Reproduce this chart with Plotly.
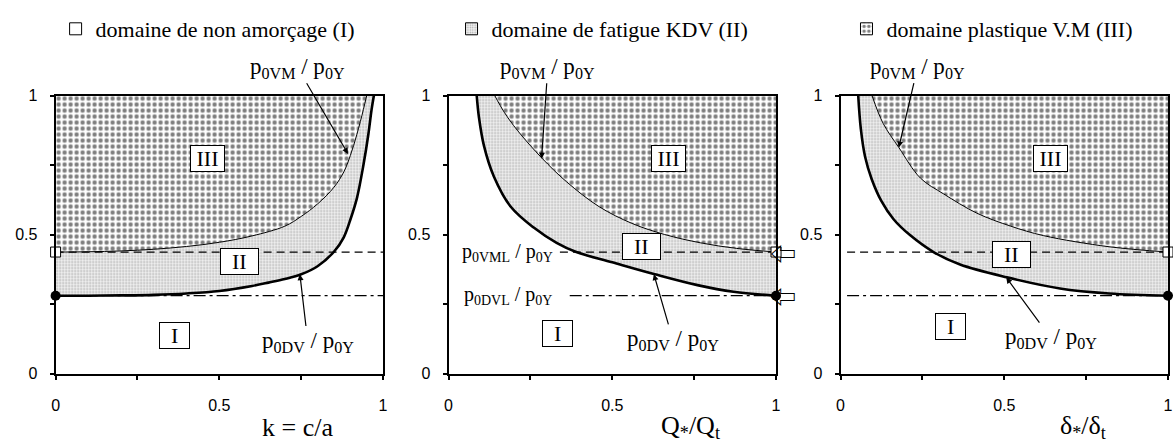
import plotly.graph_objects as go

# ---------------------------------------------------------------------------
# Curves: lower bound p0DV/p0Y (fatigue threshold) and upper bound p0VM/p0Y
# (plastic threshold) for the three loading parameters.
# ---------------------------------------------------------------------------
# panel 1 : k = c/a
K_DV = [0.0, 0.1, 0.2, 0.3, 0.4, 0.5, 0.6, 0.65, 0.7, 0.75, 0.8, 0.85, 0.88, 0.9, 0.92, 0.94, 0.955, 0.965, 0.972]
P_DV_K = [0.28, 0.28, 0.281, 0.283, 0.288, 0.297, 0.315, 0.327, 0.34, 0.357, 0.386, 0.438, 0.49, 0.553, 0.63, 0.75, 0.86, 0.95, 1.0]
K_VM = [0.0, 0.1, 0.2, 0.3, 0.4, 0.5, 0.6, 0.7, 0.75, 0.8, 0.85, 0.88, 0.9, 0.92, 0.94, 0.95]
P_VM_K = [0.437, 0.438, 0.441, 0.447, 0.457, 0.472, 0.495, 0.53, 0.565, 0.61, 0.67, 0.725, 0.784, 0.86, 0.95, 1.0]

# panel 2 : Q*/Qt
Q_DV = [0.086, 0.093, 0.108, 0.138, 0.19, 0.26, 0.33, 0.39, 0.5, 0.63, 0.76, 0.87, 1.0]
P_DV_Q = [1.0, 0.92, 0.82, 0.71, 0.60, 0.525, 0.47, 0.437, 0.40, 0.357, 0.318, 0.294, 0.28]
Q_VM = [0.141, 0.17, 0.21, 0.285, 0.36, 0.46, 0.56, 0.66, 0.77, 0.88, 1.0]
P_VM_Q = [1.0, 0.94, 0.875, 0.775, 0.69, 0.60, 0.54, 0.50, 0.47, 0.45, 0.437]

# panel 3 : delta*/delta_t
D_DV = [0.054, 0.062, 0.075, 0.095, 0.125, 0.162, 0.213, 0.284, 0.365, 0.508, 0.67, 0.82, 1.0]
P_DV_D = [1.0, 0.88, 0.78, 0.70, 0.62, 0.555, 0.497, 0.437, 0.392, 0.346, 0.306, 0.288, 0.28]
D_VM = [0.096, 0.13, 0.178, 0.244, 0.315, 0.416, 0.52, 0.62, 0.82, 1.0]
P_VM_D = [1.0, 0.9, 0.813, 0.703, 0.646, 0.577, 0.53, 0.496, 0.456, 0.437]

# limit levels
P_VML = 0.437   # p0VML/p0Y
P_DVL = 0.28    # p0DVL/p0Y

Y_TOP = 1.0
TICK_VALS = [0, 0.25, 0.5, 0.75, 1]
TICK_TEXT = ["0", "", "0.5", "", "1"]

LEGEND_NAMES = ["domaine de non amorçage (I)",
                "domaine de fatigue KDV (II)",
                "domaine plastique V.M (III)"]
AXIS_TITLES = ["k = c/a", "Q<sub>*</sub>/Q<sub>t</sub>", "δ<sub>*</sub>/δ<sub>t</sub>"]

# ---------------------------------------------------------------------------
W, H = 1173, 446
SERIF = "Liberation Serif"
SANS = "Liberation Sans"

PAT_III = dict(shape=".", size=6, solidity=0.42, fgcolor="black", bgcolor="white")
PAT_II = dict(shape=".", size=3, solidity=0.3, fgcolor="#666666", bgcolor="#f2f2f2")

X_DOMAINS = [[52 / W, 382 / W], [448 / W, 778 / W], [843 / W, 1.0]]
Y_DOMAIN = [1 - 380 / H, 1 - 91 / H]

panels = [
    dict(xd=K_DV, yd=P_DV_K, xv=K_VM, yv=P_VM_K, end=0, hstart=(0.0, 0.0)),
    dict(xd=Q_DV, yd=P_DV_Q, xv=Q_VM, yv=P_VM_Q, end=-1, hstart=(0.34, 0.37)),
    dict(xd=D_DV, yd=P_DV_D, xv=D_VM, yv=P_VM_D, end=-1, hstart=(0.02, 0.02)),
]

fig = go.Figure()

for i, p in enumerate(panels):
    s = "" if i == 0 else str(i + 1)
    xa, ya = "x" + s, "y" + s
    # top edge of the plastic domain
    fig.add_trace(go.Scatter(x=[p["xv"][0], p["xv"][-1]], y=[Y_TOP, Y_TOP], xaxis=xa, yaxis=ya,
                             mode="lines", line=dict(width=0), showlegend=False, hoverinfo="skip"))
    # p0VM/p0Y curve, domain III above it
    fig.add_trace(go.Scatter(x=p["xv"], y=p["yv"], xaxis=xa, yaxis=ya, mode="lines",
                             line=dict(color="black", width=1, shape="spline"),
                             fill="tonexty", fillcolor="rgba(0,0,0,0)", fillpattern=PAT_III,
                             showlegend=False, hoverinfo="skip"))
    # p0DV/p0Y curve, domain II between the two curves
    fig.add_trace(go.Scatter(x=p["xd"], y=p["yd"], xaxis=xa, yaxis=ya, mode="lines",
                             line=dict(color="black", width=2.6, shape="spline"),
                             fill="tonexty", fillcolor="rgba(0,0,0,0)", fillpattern=PAT_II,
                             showlegend=False, hoverinfo="skip"))
    # limit levels
    fig.add_trace(go.Scatter(x=[p["hstart"][0], 1], y=[P_VML, P_VML], xaxis=xa, yaxis=ya, mode="lines",
                             line=dict(color="black", width=1.3, dash="8px,5px"),
                             showlegend=False, hoverinfo="skip"))
    fig.add_trace(go.Scatter(x=[p["hstart"][1], 1], y=[P_DVL, P_DVL], xaxis=xa, yaxis=ya, mode="lines",
                             line=dict(color="black", width=1.3, dash="12px,4px,3px,4px"),
                             showlegend=False, hoverinfo="skip"))
    # end points of the two curves
    e = p["end"]
    fig.add_trace(go.Scatter(x=[p["xv"][e]], y=[p["yv"][e]], xaxis=xa, yaxis=ya, mode="markers",
                             marker=dict(symbol="square", size=10, color="white",
                                         line=dict(color="black", width=1)),
                             cliponaxis=False, showlegend=False, hoverinfo="skip"))
    fig.add_trace(go.Scatter(x=[p["xd"][e]], y=[p["yd"][e]], xaxis=xa, yaxis=ya, mode="markers",
                             marker=dict(symbol="circle", size=10, color="black"),
                             cliponaxis=False, showlegend=False, hoverinfo="skip"))

# legend swatches
legend_patterns = [None, PAT_II, PAT_III]
for j, (name, pat) in enumerate(zip(LEGEND_NAMES, legend_patterns)):
    marker = dict(color="white", line=dict(color="black", width=1))
    if pat is not None:
        marker["pattern"] = pat
    fig.add_trace(go.Bar(x=[None], y=[None], name=name, marker=marker,
                         legend="legend" if j == 0 else f"legend{j + 1}"))

layout = dict(
    width=W, height=H,
    margin=dict(l=0, r=0, t=0, b=0, pad=0),
    plot_bgcolor="white", paper_bgcolor="white",
    font=dict(family=SERIF, color="black"),
    showlegend=True,
)

legend_x = [52, 451, 849]
for j in range(3):
    key = "legend" if j == 0 else f"legend{j + 1}"
    layout[key] = dict(x=legend_x[j] / W, y=1.0, xanchor="left", yanchor="top",
                       orientation="h", bgcolor="rgba(0,0,0,0)", borderwidth=0,
                       font=dict(family=SERIF, size=22, color="black"))

for i in range(3):
    s = "" if i == 0 else str(i + 1)
    o = str(i + 4)
    layout["xaxis" + s] = dict(domain=X_DOMAINS[i], range=[0, 1], anchor="y" + s,
                               tickvals=TICK_VALS, ticktext=TICK_TEXT, ticks="outside",
                               ticklen=4, tickwidth=1.5, tickcolor="black",
                               showline=True, linewidth=2, linecolor="black", mirror=True,
                               showgrid=False, zeroline=False, ticklabelstandoff=12,
                               tickfont=dict(family=SANS, size=16, color="black"))
    layout["yaxis" + s] = dict(domain=Y_DOMAIN, range=[0, 1], anchor="x" + s,
                               tickvals=TICK_VALS, ticktext=TICK_TEXT, ticks="outside",
                               ticklen=4, tickwidth=1.5, tickcolor="black",
                               showline=True, linewidth=2, linecolor="black", mirror=True,
                               showgrid=False, zeroline=False, ticklabelstandoff=9,
                               tickfont=dict(family=SANS, size=16, color="black"))
    # inner half of the crossing ticks
    layout["xaxis" + o] = dict(overlaying="x" + s, anchor="y" + o, range=[0, 1],
                               tickvals=TICK_VALS, ticks="inside", ticklen=4, tickwidth=1.5,
                               tickcolor="black", showticklabels=False, showline=False,
                               showgrid=False, zeroline=False)
    layout["yaxis" + o] = dict(overlaying="y" + s, anchor="x" + o, range=[0, 1],
                               tickvals=TICK_VALS, ticks="inside", ticklen=4, tickwidth=1.5,
                               tickcolor="black", showticklabels=False, showline=False,
                               showgrid=False, zeroline=False)

fig.update_layout(**layout)

ann = []
BOX = dict(bordercolor="black", borderwidth=1, bgcolor="white", borderpad=0,
           font=dict(family=SERIF, size=22, color="black"), showarrow=False)
NB = "\u00a0"
box_pos = [
    [(0.363, 0.138), (0.562, 0.404), (0.465, 0.775)],
    [(0.334, 0.144), (0.59, 0.456), (0.673, 0.775)],
    [(0.337, 0.17), (0.523, 0.427), (0.642, 0.773)],
]
box_txt = [NB * 2 + "I" + NB * 2, NB * 2 + "II" + NB * 2, NB + "III" + NB]
for i in range(3):
    s = "" if i == 0 else str(i + 1)
    for (bx, by), t in zip(box_pos[i], box_txt):
        ann.append(dict(x=bx, y=by, xref="x" + s, yref="y" + s, text=t, **BOX))
    ann.append(dict(x=0.74, y=1 - 436 / H, xref="x" + s, yref="paper", text=AXIS_TITLES[i],
                    showarrow=False, yanchor="middle",
                    font=dict(family=SERIF, size=26, color="black")))

LBL = dict(family=SERIF, size=23, color="black")
VM_TXT = "p<sub>0VM</sub> / p<sub>0Y</sub>"
DV_TXT = "p<sub>0DV</sub> / p<sub>0Y</sub>"
ARW = dict(showarrow=True, arrowhead=2, arrowsize=1, arrowwidth=1.2, arrowcolor="black", standoff=0)

# p0VM/p0Y labels (above the frames) pointing to the upper curves
vm_arrows = [((0.893, 0.79), (0.739, 1.1)),
             ((0.284, 0.773), (0.303, 1.1)),
             ((0.178, 0.813), (0.235, 1.1))]
# p0DV/p0Y labels pointing to the lower curves
dv_arrows = [((0.746, 0.357), (0.77, 0.115)),
             ((0.627, 0.357), (0.685, 0.121)),
             ((0.506, 0.346), (0.642, 0.127))]
for i in range(3):
    s = "" if i == 0 else str(i + 1)
    for (hx, hy), (tx, ty), txt in ((vm_arrows[i][0], vm_arrows[i][1], VM_TXT),
                                    (dv_arrows[i][0], dv_arrows[i][1], DV_TXT)):
        ann.append(dict(x=hx, y=hy, ax=tx, ay=ty, xref="x" + s, yref="y" + s,
                        axref="x" + s, ayref="y" + s, text=txt, font=LBL, **ARW))

# limit-level labels inside panel 2
ann.append(dict(x=0.18, y=P_VML, xref="x2", yref="y2", showarrow=False,
                text="p<sub>0VML</sub> / p<sub>0Y</sub>", font=dict(family=SERIF, size=20, color="black")))
ann.append(dict(x=0.18, y=P_DVL, xref="x2", yref="y2", showarrow=False,
                text="p<sub>0DVL</sub> / p<sub>0Y</sub>", font=dict(family=SERIF, size=20, color="black")))
# hollow arrows marking the limit levels
for lvl in (P_VML, P_DVL):
    ann.append(dict(x=1.066, y=lvl, xref="x2 domain", yref="y2", showarrow=False, text="\u21e6",
                    font=dict(family="Noto Sans CJK JP", size=26, color="black")))

fig.update_layout(annotations=ann)
fig.write_html("out.html")
